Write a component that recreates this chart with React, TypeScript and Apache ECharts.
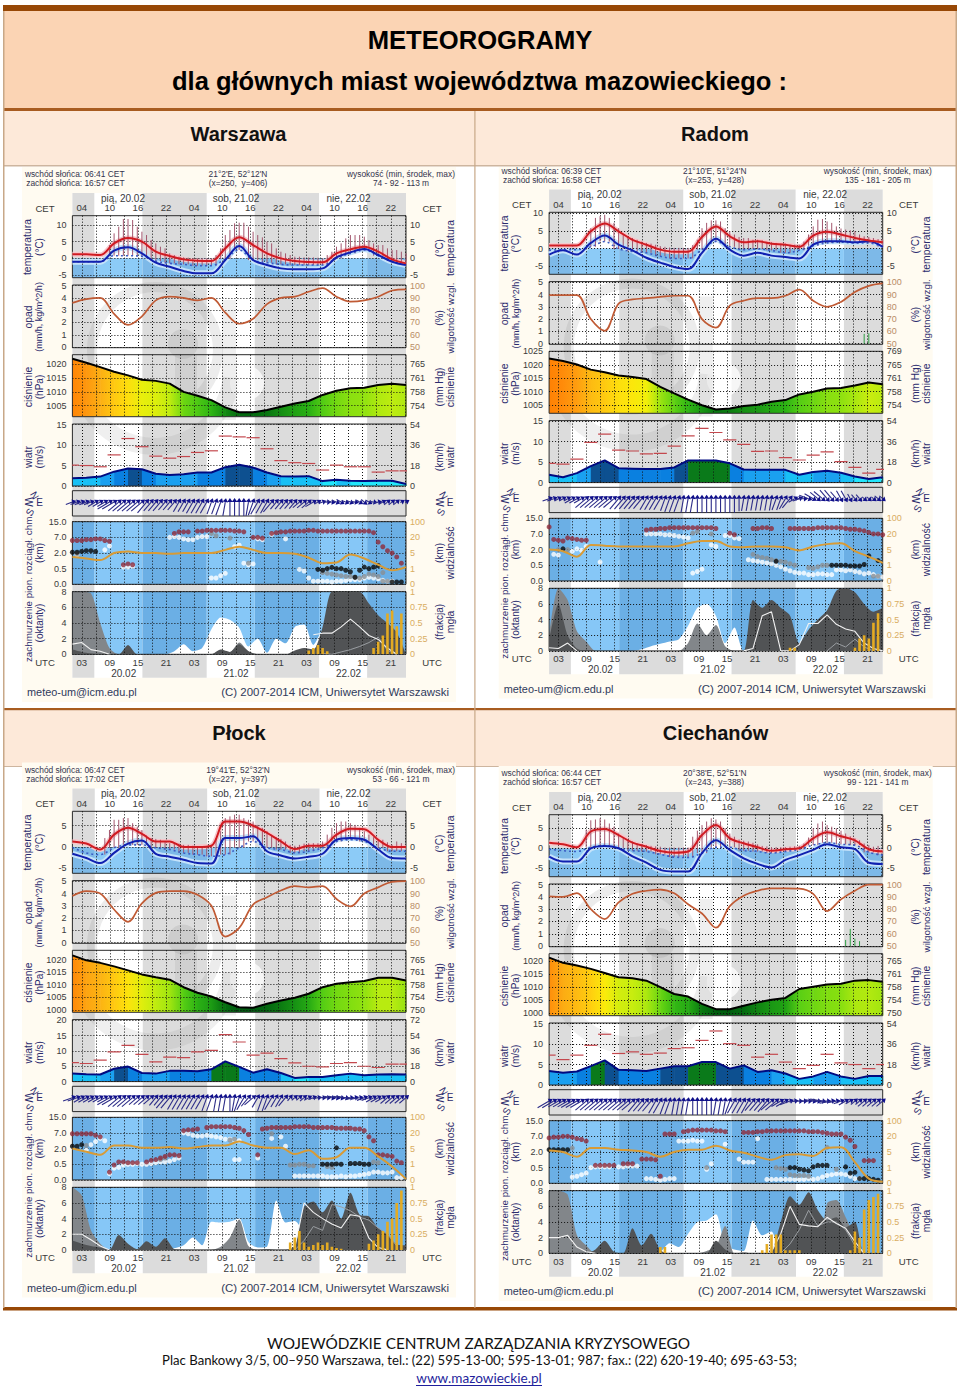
import React, { useEffect, useRef } from "react";
import * as echarts from "echarts";

// ---------- shared labels ----------
const TITLE_1 = "METEOROGRAMY";
const TITLE_2 = "dla głównych miast województwa mazowieckiego :";
const FOOT_1 = "WOJEWÓDZKIE CENTRUM ZARZĄDZANIA KRYZYSOWEGO";
const FOOT_2 = "Plac Bankowy 3/5, 00–950 Warszawa, tel.: (22) 595-13-00; 595-13-01; 987; fax.: (22) 620-19-40; 695-63-53;";
const FOOT_3 = "www.mazowieckie.pl";
const BASE_LABELS = ["0.0", "0.5", "2.0", "7.0", "15.0"];
const VIS_LABELS = ["0", "1", "5", "20", "100"];
const FOG_LABELS = ["0", "0.25", "0.5", "0.75", "1"];

// ---------- Warszawa ----------
const W_T = [1.2,1.2,1,4.5,6.1,5,2,.7,-.3,-.7,-.8,3,6.3,4,1.5,0,-.8,-1.1,-1.2,1.5,2.7,3.5,2,-.3,-1.5];
const W_TD = [-1,-1,-1,2.3,3.3,1.5,-1.3,-2.5,-3.8,-4.5,-4.5,-.5,3.7,-.5,-2,-3,-3.3,-3.3,-3,.3,1.8,2.8,1,-1,-2];
const W_DOT = [-1,-1,-1,.8,.8,.6,-.8,-1.5,-1.8,-2.2,-2.2,-.2,2.5,-.5,-1.3,-1.8,-2,-2,-2,0,1.5,2.5,.8,-.8,-1.5];
const W_STICK = [[9,[4,7.5,9.5,11.8,11.8,11.5,9.5,8,7,5.5,4.5,3.5,3,1.5,1,.5,.3,.2,0,0,0,0,0,1,3,7,8.5,10.5,10.7,10.7,9.5,8,7,6.3,5,4.5,3,2,1.5,1,.5,.5,.3,.3,.3,.2,0,1,2,3.5,4.5,6,7,7,7,6.5,5.5,4.5,4,4,3,2.5,2.5,2,1.5]]];
const W_RH = [86,89,90,77,68,75,88,91,90,88,90,78,69,73,85,90,91,95,98,91,87,88,91,96,97];
const W_RAIN: any[] = [];
const W_P = [1022,1020.6,1019,1017.3,1016,1014.4,1014,1013,1010,1008.6,1007,1004.4,1002.6,1002.6,1003.4,1004.6,1005.8,1006.7,1008.9,1010.4,1011.3,1011.5,1012.5,1013,1012.5];
const W_WIND = [1.9,2,2.3,3.5,4.3,4.1,3,2.7,2.9,3.3,3.3,4.6,5.2,4.5,3.3,2.4,2.3,2.4,1.2,1.5,1.3,1.2,1.3,1.3,.5];
const W_GUST = [5.1,5,4.7,7.6,11.6,9.6,7.3,6.8,7.2,8.2,8.6,12.2,12,11.8,9.1,6.2,5.7,5.5,3.9,5.1,4.7,4.7,3.4,3.7,3.7];
const W_DIR = [25,25,25,25,25,24,24,24,24,24,23,23,23,23,23,23,22,22,22,22,22,22,22,21,21,21,21,21,21,21,20,20,20,19,18,18,18,18,19,20,21,21,21,22,22,22,22,22,22,23,23,23,24,24,25,27,28,29,30,29,29,28,30,31,30,28,26,24,23,23,23,24,24];
const W_VIS = [1.75,1.65,1.55,2,2.1,2,2,1.95,2,2,2,2.2,2.4,2.2,2,2,1.95,1.7,1.35,1.4,1.9,1.65,1.25,.9,1.1];
const W_HIGH = [[1,[2.8,2.8,2.8,2.85,2.85,2.9,2.9,2.8,2.75]],[12,[1.25,1.3,1.25]],[23,[3.25,3.35,3.35,3.35]],[28,[3.4,3.4,3.45,3.45,3.45,3.45,3.45,3.45,3.4,3.4,3.35]],[40,[3,3,2.95]],[44,[3.25,3.3,3.35,3.35,3.4,3.4,3.4,3.4,3.45,3.45,3.4,3.4,3.4,3.4,3.4,3.4,3.4,3.4,3.4,3.4,3.4,3.4,3.3]],[67,[2.7,2.4,2.15,2,1.75,1.35]]];
const W_BLACK = [[1,[2.05,2.05,2.1,2.15,2.15,2.1]],[54,[.95,.9,1,1.08,1,1,.9,.8,.45,.9,1.1,1,1.1,1.2]],[70,[.15,.15,.15]]];
const W_GRAY = [[2,[1.95]],[31,[3.25,3.1]],[35,[2.95]],[39,[1.35]],[55,[.75,.7,.65,.6,.55,.5,.5,.45,.4,.5,.65,.6,.5,.75]],[68,[.2,.2]]];
const W_WHITE = [[2,[1.9]],[8,[2.2,2.45]],[12,[1.1,1.1,1.15]],[22,[3,3.05,3,2.9,2.85,2.85,3,3.05,3.05]],[31,[.4,.4,.55,.7]],[36,[2.4,2.5]],[38,[1.35,1.25,1.3]],[41,[2.9,2.85]],[44,[3.2]],[47,[2.9]],[50,[.95,.85]],[52,[.4,.2,.2,.2,.2,.15,.2,.2,.25,.3,.3,.3,.4,.45,.4,.35,.25,.2,.2]]];
const W_COV_WHITE = [0,0,0,0,0,0,0,0,0,0,0,.4,1.3,.4,.8,3.2,4.7,4.4,3.4,1,2,.2,2,1.4,3.5,3.8,1.2,3];
const W_COV_GRAY = [8,8,7.8,4,.8,0,0,0,0,0,0,0,0,0,0,0,.5,.3,1.5,.4,0,0,0,0,0,0,0,0,0,0,0,0,0,4,3,.5];
const W_COV_DARK = [.6,.3,.1,0,0,0,1.2,0,0,0,0,0,0,0,0,0,.6,.3,1.3,.4,0,0,0,0,.5,.8,.6,3.5,8,8,8,8,6.5,5,4,2.8,0];
const W_LINE_WHITE = [[0,[1.3,1.5,.6,.4,0]],[26,[2.5,2.7,2.7,3.5,4.5,3.5,2.4,1.9,.8,0]]];
const W_LINE_GRAY = [[27,[.1,0,.3,.6,1,1.5,2.2,.5,0]]];
const W_FOG = [[52,[.06,.1,.15,.1,.05]],[66,[.1,.2,.3,.65,.7,.45,.65]]];

// ---------- Radom ----------
const R_T = [.9,.9,.9,4.9,7.1,4.9,2.5,1.1,-.3,-.9,-.9,3.3,6.3,3.5,1.8,2.1,1.4,1.1,.5,3.7,4.8,4,3,2.3,1.8];
const R_TD = [-1.7,-.5,-1.7,1.6,3.7,1.1,-.5,-2.6,-4,-5.2,-5.8,-1.2,2.8,-.3,-2,-1.2,-2,-2.4,-2.8,1.1,2.1,2.1,1.8,2.1,.5];
const R_DOT = [-.5,-.3,-.3,.5,2,-.1,-.8,-1.2,-2.2,-2.8,-2.8,-.3,2,.5,-.3,-.1,-.5,-1.2,-.5,.8,1.6,1.8,1.6,1.6,.5];
const R_STICK = [[10,[5.8,8.7,9.2,9.6,8.7,7.3,5.8,4,3.5,3,2.5,2,1.6,1.4,1.1,.7,.5,.3,.2,.2,.2,.2,1,2.5,5.8,7.3,8,8,7.7,5.8,4.9,4,3.3,3,3,2.5,2.5,2.3,1.8,1.8,1.6,1.4,1.4,1.1,1.1,1.1,2,4,6.3,8.2,8.4,7.7,7.3,6.3,5.7,5.4,5.2,4.9,4,3.5,3.3,3,2.7,2.5]]];
const R_RH = [89.5,89.5,89.5,70,60.5,82.6,86,87,88,89,89,70,63,81,85,87,87,89,94,85,80,84,92,97,99];
const R_RAIN = [[69,[.8,.85]]];
const R_P = [1022.3,1021.4,1020.1,1018.2,1017.2,1016,1015.5,1014.7,1011.8,1009.4,1007.1,1005,1003.4,1003.8,1004.7,1005.2,1006.3,1006.9,1009,1010,1011.2,1011.4,1012.3,1013.4,1012.8];
const R_WIND = [1.9,1.3,2.3,4,5.4,3.5,3.4,3.3,3.3,3.7,5.4,5.4,5.4,4.7,3.2,3.1,3.1,3.1,1.9,2.6,2.9,2.4,1.5,.9,1.3];
const R_GUST = [4.7,4.5,5.7,9.8,11.8,7.9,7.7,7,7.1,8.9,11.4,13.2,12.2,10.4,9.3,7.6,7.7,6.1,5.5,6.7,7.5,5.1,3.7,2.3,3.2];
const R_DIR = [25,25,24,24,24,24,24,24,23,23,23,23,23,23,23,22,22,22,22,22,22,21,21,21,21,20,20,20,20,19,19,19,18,18,18,18,18,18,18,18,18,18,19,19,19,19,19,19,19,20,20,21,22,24,25,27,29,30,31,31,32,32,32,33,33,33,32,32,31,31,31,31,31];
const R_VIS = [2,1.9,1.55,2.3,2.25,2.2,2.2,2.2,2.2,2.2,2.4,2.55,2.55,2.2,2.15,2.2,2.2,2.15,1.95,2.2,2.35,2.4,1.9,1.55,1.15];
const R_HIGH = [[1,[3.45]],[2,[2.65,2.6,2.55,2.75,2.7,2.65,2.6,2.6]],[22,[3.25,3.3,3.3,3.35,3.35,3.4,3.4,3.4,3.4,3.4,3.4,3.4,3.4,3.4,3.4,3.35]],[40,[3.05,2.95]],[45,[3.35,3.35,3.4,3.4,3.35]],[53,[3.35,3.35,3.35,3.35,3.35,3.35,3.4,3.4,3.4,3.4,3.4,3.4,3.35,3.3,3.3,3.25,3.2,3.1,3,3,2.95,2.9]]];
const R_BLACK = [[4,[2.05]],[50,[1.25]],[62,[1,1,1,1,.95,.95,.95,1.05]],[70,[1.6]],[72,[1.3]]];
const R_GRAY = [[3,[2]],[5,[2]],[32,[3.05,3.15]],[36,[3]],[45,[1.7,1.55,1.5,1.45,1.35,1.3,1.25,1.2,1.1,1]],[57,[.85,.8,.9,1,1]],[71,[.3,.3]]];
const R_WHITE = [[2,[1.7,1.65]],[6,[1.9,2.05,1.95,2.2]],[12,[1.2]],[22,[3,3,3,3,2.95,2.95,2.9,2.85,2.8,2.75]],[32,[.5,.6,.75]],[36,[2.3,2.2]],[39,[2.9,2.9,2.75,2.7]],[44,[1.35,1.3,1.25,1.2,1.15,1.1,1,.9,.75,.65,.55,.5,.5,.4,.4,.45,.45,.4,.4,.7,.7,.65,.7,.6,.55,.45,.5,.4,.3,.25]]];
const R_COV_WHITE = [0,0,0,0,0,0,0,0,0,0,.2,.6,.9,1.2,1.5,3.2,5.5,6,4.5,1,3];
const R_COV_GRAY = [2,8,6.5,2.5,1.2,0,0,0,0,0,0,0,0,0,0,1,3.5,2,3.3,.6];
const R_COV_DARK = [1.4,6,2,.3,0,0,0,0,0,0,0,0,0,0,0,0,0,0,0,0,0,0,6.5,5.5,6.5,5.5,4.5,1,2.7,4,5.2,7.7,8,7.5,6,5,5.5];
const R_LINE_WHITE = [[0,[.4,.3,1,0]],[21,[0,.3,4.5,5,0,0,.8,3.5,3.5,4.6,3.4,2.8,2.5,1,.3,0]]];
const R_LINE_GRAY = [[30,[0,1,.5,1.5,.5,0]]];
const R_FOG = [[53,[.05,.05]],[67,[.05,.2,.25,.2,.45,.6]]];

// ---------- Płock ----------
const P_T = [1.3,.8,-.6,2.9,4.5,3.1,1.3,1.3,0,0,.3,6,6,5,3.3,1.3,-.5,.3,.3,2.9,4.3,4.2,1.7,0,0];
const P_TD = [-1.6,-2.6,-3.8,-1.4,.8,1.5,-1.6,-2.3,-3,-3.8,-3.9,2.1,2.1,2.5,-1,-2,-2.7,-2.3,-1.6,1.7,2.1,1.7,-.6,-2.6,-2.7];
const P_DOT = [-.1,-1.4,-1.8,-.2,.5,.5,-.2,-.6,-1.4,-1.8,-2.2,-1.8,-.2,1.3,-.2,-.6,-1.4,-1,-.2,1.3,1.7,1.3,-.2,-1,-1];
const P_STICK = [[8,[2.1,4,6.4,6.4,6.8,6.8,5.6,4.8,4,2.7,2.1,1.9,1.7,1.3,.9,.9,.8,.5,.5,.3,.2,.2,.2,.5,2.1,3.7,6.8,7.2,7.6,7.6,6.8,6.4,6,5.2,4.5,3.7,2.9,2.3,1.9,1.3,.5,.3,.5,.8,.9,.9,.9,1.3,2.9,4.5,5.6,6,6,5.6,5.2,4.5,3.7,2.9,2.3,1.9,1.7,1.1,.5,1.3,.9]]];
const P_RH = [88,92,90,77,67,82,90.5,92,92,89,80,55,62,81,87,92.5,96,95,96,85.5,79.5,90,95,99.5,100];
const P_RAIN: any[] = [];
const P_P = [1021.7,1019.7,1018.7,1017.3,1015.7,1014.1,1013,1012,1009,1006.8,1005.3,1003,1001,1000.8,1002.4,1003.7,1004.8,1006.4,1009,1010.4,1011,1011.5,1012.8,1012.8,1011.7];
const P_WIND = [2.6,2.4,2.3,4.2,4.9,2.8,2.6,3.5,3.5,3.4,4,6.6,4.8,2.9,4,2.8,1.2,1.5,1.5,2.1,2.6,2.1,2.3,2.4,2.3];
const P_GUST = [6.2,5.9,7,9.7,11.8,8.9,6.4,8,7.8,9.7,10.2,15.3,12.9,8.6,9.3,7.5,6.1,5,4.8,5.9,6.2,5,4.6,5.7,5.7];
const P_DIR = [25,25,24,24,24,24,24,24,24,24,23,23,23,23,23,23,23,23,22,22,22,22,21,21,21,21,21,21,21,20,20,19,19,19,18,19,20,21,22,23,21,20,20,21,21,21,22,22,23,23,23,24,25,26,27,27,28,28,28,28,27,26,26,25,25,24,24,24,23,23,23,23,23];
const P_VIS = [2,1.8,1.6,2.2,2.2,2.05,2.05,2.1,2,2.1,2.2,2.2,2.45,2.2,2.05,2.05,1.65,1.9,1.35,1.45,2.05,2.05,1.5,.85,.05];
const P_HIGH = [[1,[2.95,2.95,2.95,2.95,2.95,2.85,2.75]],[9,[.5,.95,1.15,1.15,1.1,1.1,1.1]],[17,[1.15,1.25,1.3,1.4,1.5,1.6,1.6,1.55]],[25,[3.15,3.2,3.2,3.25]],[30,[3.35,3.4,3.4,3.4,3.4,3.4,3.35,3.3,3.15,2.9]],[41,[1.6]],[42,[3.25,3.3,3.35,3.35,3.35,3.35,3.35,3.4,3.4,3.4,3.4,3.35,3.35,3.35,3.35,3.35,3.3,3.3,3.3,3.3,3.25,3.25,3.15,2.75,2.5]],[67,[1.6,1.6,1.55,1.5,1.2,1.1]]];
const P_BLACK = [[1,[2.15,2.15,2.25]],[55,[1,1,1,1.02,1]],[58,[2.05]],[61,[1.05,1.05,1.05,1,1]]];
const P_GRAY = [[4,[2.2]],[20,[1.3,1.4]],[35,[2.55,2.6]],[44,[2.95]],[48,[.95,.95,1,1,.9,.9]],[56,[.85,.8]],[66,[1.15,1.1]]];
const P_WHITE = [[4,[1.9,2.25,2.45,2.65,2.5]],[9,[.4,.75,.8,.95,1,1,1.05]],[16,[1,1,1.05,1.1,1.15,1.15,1.2,1.3,1.4]],[25,[3,2.95,2.85,2.8,2.8,2.85,2.8,2.75,2.7,2.6,2.6,2.55,2.5]],[36,[1.3,1.3]],[41,[1.4]],[44,[2.65]],[46,[2.75]],[47,[2.15]],[49,[.25,.25,.25,.25,.25,.25,.25,.2,.2,.2,.25,.2,.25,.25,.3,.35,.4,.5,.5,.45,.45,.5,.15,.15]]];
const P_COV_WHITE = [0,0,0,0,0,0,0,0,0,0,0,.2,.6,1.6,.6,3.6,3.5,3.6,4,1,.3,.4,6.3,3.5,3.7,2];
const P_COV_GRAY = [8,7,2.5,.8,0,0,0,0,0,0,0,0,0,0,0,0,.4,1.6,3.9,.5];
const P_COV_DARK = [1.2,.8,.5,.3,0,1.9,.8,.1,1.1,.4,1.5,.1,0,0,0,0,0,0,0,0,0,.1,0,0,.5,5.5,6.2,4.8,6.3,4,7.3,4.5,4.3,2.8,2,.7,.6];
const P_LINE_WHITE = [[0,[2,2,1.3,.5,0]],[24,[.3,6,4.8,4,3.3,2.8,4.5,4.3,1.5,.3,0]]];
const P_LINE_GRAY = [[24,[0,1.2,3,2.5,5.8,5.5,5,4.2,3.8,2.8,2,.5]]];
const P_FOG = [[48,[.12,.2,.3,.12,.05,.08,.12,.08,.12,.05,.03,.02]],[65,[.1,.15,.25,.3,.45,.5,.75,.95]]];

// ---------- Ciechanów ----------
const C_T = [1.4,1,.25,4.2,4.8,3.3,1.4,.4,-.7,-1.1,-.8,3.3,5.8,2.5,1.25,.25,-.6,-.25,0,2.5,4,3,2,-.25,-.8];
const C_TD = [-2.1,-3.3,-3.3,0,.6,0,-2,-3.6,-5.4,-5.8,-5.8,-1.2,2,-.4,-2.5,-3.9,-4.8,-2.9,-1.7,-.4,1,.25,-.2,-3.6,-3.9];
const C_DOT = [-.2,-.6,-.8,.25,.7,0,-.6,-.8,-1.5,-2.2,-2.3,-1.2,.25,.25,-.6,-.8,-1.2,-.8,-.25,.8,1.4,1,.8,-1,-1.7];
const C_STICK = [[9,[4.6,7,7.2,7.5,7.2,6.2,5.4,3.7,2.5,2,1.7,1.2,1,.8,.6,.5,.4,.2,.2,.2,.2,.2,.2,2.9,4.4,5.8,6.7,7.5,7.2,6.7,5,3.7,2.9,2.2,1.9,1.7,1.4,1,.6,.5,.3,.3,.3,.3,.4,.5,.6,1.2,2.7,5,6.2,6.7,5.8,5.4,5,4.4,3.7,3,2.5,2,1.2,.8,.4,.6]]];
const C_RH = [90.5,90,93,80,72,85.5,92.5,95,96,93,84,76.5,65,82.5,91,95,97,97,96.7,92.5,78.5,88,95,100,100];
const C_RAIN = [[65,[.5,1.4,.6,.4]]];
const C_P = [1021.2,1019.2,1018.2,1016.9,1015.3,1013.7,1013.3,1012.4,1009.9,1007.3,1006.3,1003.5,1001.5,1001.5,1002.8,1004.1,1005.1,1005.8,1009.2,1010.1,1010.9,1011.2,1012.4,1012.6,1012];
const C_WIND = [3.4,3,3.3,4.6,6,3.7,3.6,3.4,4,4.6,4.6,5.6,5.6,4,4.8,3.2,3.6,2.8,1.5,2.1,3.2,2.1,1.5,2.2,2.2];
const C_GUST = [7.3,6.2,7.3,9.7,12.4,7.7,8.1,7.5,7.8,8.9,9.1,10.9,13.2,10.1,9.7,6.8,7.5,5.6,4,4.8,7.5,5.4,5,4,5];
const C_DIR = [24,24,24,24,24,24,24,24,23,23,23,23,23,23,23,23,23,23,23,22,22,22,22,21,21,20,20,19,19,19,19,18,18,18,18,18,19,19,19,20,21,21,21,21,22,22,22,22,23,23,24,24,25,26,27,27,27,28,28,28,27,26,26,25,24,24,23,23,23,23,23,23,23];
const C_VIS = [2.1,2,1.7,2.25,2.25,2.15,2.1,2,1.7,2,2.15,2.15,2.4,2.1,1.95,1.7,1.5,1.8,1.85,1.75,2.25,2.3,1.35,.3,.1];
const C_HIGH = [[1,[2.9,2.95,2.95,3,3,2.95,2.85,2.8,2.7]],[11,[1.15,1.15,1.15,1.15,1.15]],[17,[1.25,1.25,1.25]],[21,[1.55,1.55,1.55,1.5]],[25,[.45]],[26,[3.15,3.15,3.15]],[30,[3.3,3.35,3.4,3.4,3.4,3.4,3.4,3.35,3.35,3.3]],[43,[3.25,3.25,3.25,3.3,3.3,3.35,3.35,3.35,3.35,3.35,3.35,3.35,3.35,3.35,3.3,3.3,3.3,3.25,3.2,3.15,3.15,3.15,2.95,2.75,2.35]],[69,[1.45,1.45,1.45]]];
const C_BLACK = [[1,[2.15,2.15,2.15,2.15,2.15]],[53,[1,1,.9,.85,.8,1.05,1.15,1.15,1.15]],[65,[1.05,.65,.7]],[68,[.3,.3,.3,.25,.2]]];
const C_GRAY = [[6,[2.25]],[35,[1]],[50,[1,.95,.9,.55,.5,.5,.5,.45]],[61,[2.3]],[63,[.9]]];
const C_WHITE = [[6,[.4,.45,.55,.65]],[10,[1,1.05,1.05,1.05,1.05]],[16,[1.05,1.05,1.1,1.1,1.1]],[22,[.3,.3,.25,.2,.25,.3,.3]],[29,[2.7,2.7,2.7,2.75,2.7,2.7]],[35,[.9,1.25]],[39,[2.5]],[42,[1.55,1.35,1.35,1.35]],[46,[2.85]],[48,[.25,.25,.25,.25,.25,.25,.25,.25,.25,.3,.25,.3,.4,.5,.55,.6,.6,.55,.45,.3,.3]]];
const C_COV_WHITE = [0,0,0,0,0,0,0,0,0,0,0,0,.2,1.3,.8,2.5,4,4.2,5,1,.5,.3,4.2,2.3,2.8];
const C_COV_GRAY = [8,8,7.5,2.3,1,0,0,0,0,0,0,0,0,0,0,0,0,.3,.8,3.5,0,0,0,0,0,0,0,0,0,0,6.4,6.8,4.6,2];
const C_COV_DARK = [0,0,0,0,0,.5,1.6,.2,0,3.2,1,2.5,.4,0,0,0,0,0,1.6,.5,0,.1,0,0,.2,4,7.3,6.2,7.8,5.5,4.2,4.6,3.3,4];
const C_LINE_WHITE = [[0,[2,2,2.3,.8,.2,0]],[24,[.2,2.5,6,3.7,3.5,3.4,4.6,3.8,3.2,1.5,0]]];
const C_LINE_GRAY = [[25,[0,1.2,3,5.5,3.5,4,4,3,1,0]]];
const C_FOG = [[25,[.1,.1]],[47,[.05,.15,.3,.3,.3,.05,.05,.05,.05]],[66,[.05,.35,.25,.7,.85,.9,.95]]];

const CITIES = [
  { name: "Warszawa", nameXY: [238.5, 134], dx: 0, dy: 0, rise: "06:41", set: "16:57", nights: [[1,5.68],[15.95,29.68],[39.95,53.68],[63.95,72.25]], coord: "21°2'E, 52°12'N", grid: "(x=250,  y=406)", alt: "74 - 92 - 113 m",
    tRange: [-5.8,12.8], tTicks: [-5,0,5,10], pRange: [1001,1023.5], pTicks: [1005,1010,1015,1020], wMax: 15.15, wTicks: [0,5,10,15],
    T: W_T, TD: W_TD, DOT: W_DOT, STICK: W_STICK, RH: W_RH, RAIN: W_RAIN, P: W_P, WIND: W_WIND, GUST: W_GUST, DIR: W_DIR, VIS: W_VIS, HIGH: W_HIGH, BLACK: W_BLACK, GRAY: W_GRAY, WHITE: W_WHITE, CW: W_COV_WHITE, CG: W_COV_GRAY, CD: W_COV_DARK, LW: W_LINE_WHITE, LG: W_LINE_GRAY, FOG: W_FOG },
  { name: "Radom", nameXY: [715, 134], dx: 476.7, dy: -3.4, rise: "06:39", set: "16:58", nights: [[1,5.65],[15.97,29.65],[39.97,53.65],[63.97,72.25]], coord: "21°10'E, 51°24'N", grid: "(x=253,  y=428)", alt: "135 - 181 - 205 m",
    tRange: [-7.3,10.3], tTicks: [-5,0,5,10], pRange: [1002,1025], pTicks: [1005,1010,1015,1020,1025], wMax: 15.1, wTicks: [0,5,10,15],
    T: R_T, TD: R_TD, DOT: R_DOT, STICK: R_STICK, RH: R_RH, RAIN: R_RAIN, P: R_P, WIND: R_WIND, GUST: R_GUST, DIR: R_DIR, VIS: R_VIS, HIGH: R_HIGH, BLACK: R_BLACK, GRAY: R_GRAY, WHITE: R_WHITE, CW: R_COV_WHITE, CG: R_COV_GRAY, CD: R_COV_DARK, LW: R_LINE_WHITE, LG: R_LINE_GRAY, FOG: R_FOG },
  { name: "Płock", nameXY: [239, 733], dx: 0, dy: 595.6, rise: "06:47", set: "17:02", nights: [[1,5.78],[16.03,29.78],[40.03,53.78],[64.03,72.25]], coord: "19°41'E, 52°32'N", grid: "(x=227,  y=397)", alt: "53 - 66 - 121 m",
    tRange: [-6.2,8.4], tTicks: [-5,0,5], pRange: [999,1023.7], pTicks: [1000,1005,1010,1015,1020], wMax: 20.2, wTicks: [0,5,10,15,20],
    T: P_T, TD: P_TD, DOT: P_DOT, STICK: P_STICK, RH: P_RH, RAIN: P_RAIN, P: P_P, WIND: P_WIND, GUST: P_GUST, DIR: P_DIR, VIS: P_VIS, HIGH: P_HIGH, BLACK: P_BLACK, GRAY: P_GRAY, WHITE: P_WHITE, CW: P_COV_WHITE, CG: P_COV_GRAY, CD: P_COV_DARK, LW: P_LINE_WHITE, LG: P_LINE_GRAY, FOG: P_FOG },
  { name: "Ciechanów", nameXY: [715.5, 733], dx: 476.7, dy: 599, rise: "06:44", set: "16:57", nights: [[1,5.73],[15.95,29.73],[39.95,53.73],[63.95,72.25]], coord: "20°38'E, 52°51'N", grid: "(x=243,  y=388)", alt: "99 - 121 - 141 m",
    tRange: [-7.1,8.4], tTicks: [-5,0,5], pRange: [999,1022.7], pTicks: [1000,1005,1010,1015,1020], wMax: 15.15, wTicks: [0,5,10,15],
    T: C_T, TD: C_TD, DOT: C_DOT, STICK: C_STICK, RH: C_RH, RAIN: C_RAIN, P: C_P, WIND: C_WIND, GUST: C_GUST, DIR: C_DIR, VIS: C_VIS, HIGH: C_HIGH, BLACK: C_BLACK, GRAY: C_GRAY, WHITE: C_WHITE, CW: C_COV_WHITE, CG: C_COV_GRAY, CD: C_COV_DARK, LW: C_LINE_WHITE, LG: C_LINE_GRAY, FOG: C_FOG },
];

// ---------- layout ----------
const PLOT_L = 72.4, PLOT_W = 333.6;
const X_MIN = 1, X_MAX = 72.25;
const T3 = Array.from({ length: 25 }, (_, i) => X_MIN + (i * (X_MAX - X_MIN)) / 24);
const T2 = Array.from({ length: 37 }, (_, i) => X_MIN + (i * (X_MAX - X_MIN)) / 36);
const hourX = (k: number) => X_MIN + ((k - 1) * (X_MAX - X_MIN)) / 72;
const GRID_X = [3,6,9,12,15,18,21,24,27,30,33,36,39,42,45,48,51,54,57,60,63,66,69,72];
const LABEL_X = [3,9,15,21,27,33,39,45,51,57,63,69];
const PANELS = { temp: [215.7,277.7], rain: [285,347.7], press: [354.7,416.7], wind: [424,486], dir: [490.7,516], base: [521.7,584.3], cover: [591.7,654.3] };
const SIDE_TEXT: any[] = [
  [27.7,247,"temperatura",10.4],[39,247,"(°C)",10],[28,317,"opad",10.4],[39,317,"(mm/h, kg/m^2/h)",9],[28,387,"ciśnienie",10.4],[39,387,"(hPa)",10],[28,457,"wiatr",10.4],[39,457,"(m/s)",10],[28,588,"zachmurzenie pion. rozciągł. chm.",9.8],[39,553,"(km)",10],[39,623,"(oktanty)",10],
  [439,248,"(°C)",10],[450,248,"temperatura",10.4],[439,318,"(%)",10],[450,318,"wilgotność wzgl.",9.8],[439,387,"(mm Hg)",10],[450,387,"ciśnienie",10.4],[439,457,"(km/h)",10],[450,457,"wiatr",10.4],[439,553,"(km)",10],[450,553,"widzialność",10.4],[439,622,"(frakcja)",10],[450,622,"mgła",10.4],
];
const DATE_TOP: any[] = [[123,198,"pią, 20.02"],[236,198,"sob, 21.02"],[348.5,198,"nie, 22.02"]];
const DATE_BOT: any[] = [[123.7,673,"20.02"],[236,673,"21.02"],[348.5,673,"22.02"]];
const FONT = '"Liberation Sans", Arial, sans-serif';
const NAVY = "#2b2b6e", TXT = "#3a3a3a", GOLD = "#d9ad62", TAN = "#b98d66";

const pressColor = (v: number) => {
  const stops: any[] = [[1001,[0,90,16]],[1003,[5,110,16]],[1005,[25,150,20]],[1007,[45,180,20]],[1009,[85,205,20]],[1011,[130,222,16]],[1013,[190,236,16]],[1015,[250,240,10]],[1017,[255,205,15]],[1019,[252,175,20]],[1021,[255,145,12]],[1023,[255,120,0]]];
  let a = stops[0], b = stops[stops.length - 1];
  for (let i = 0; i < stops.length - 1; i++) if (v >= stops[i][0] && v <= stops[i + 1][0]) { a = stops[i]; b = stops[i + 1]; }
  const t = b[0] === a[0] ? 0 : Math.min(1, Math.max(0, (v - a[0]) / (b[0] - a[0])));
  return `rgb(${a[1].map((c: number, k: number) => Math.round(c + (b[1][k] - c) * t)).join(",")})`;
};
const windColor = (v: number) => v < 1.4 ? "#22e6fb" : v < 2.6 ? "#18c0f5" : v < 3.3 ? "#1aa0f0" : v < 4.1 ? "#0a80e0" : v < 5 ? "#0d5090" : v < 5.8 ? "#0a7a1a" : "#19c01f";
const runs = (r: any[], xf: (i: number) => number) => { const out: any[] = []; r.forEach(([s, vals]: any) => vals.forEach((v: number, i: number) => out.push([xf(s + i), v]))); return out; };

function buildOption() {
  const grid: any[] = [], xAxis: any[] = [], yAxis: any[] = [], series: any[] = [], g: any[] = [];
  const txt = (x: number, y: number, text: string, o: any = {}) => g.push({ type: "text", x, y, rotation: o.rot || 0, z: o.z ?? 20, silent: true, style: { text, font: `${o.w || "normal"} ${o.s || 10}px ${o.f || FONT}`, fill: o.c || TXT, align: o.a || "center", verticalAlign: "middle" } });
  const rect = (x: number, y: number, w: number, h: number, fill: string, z = -5) => g.push({ type: "rect", z, silent: true, shape: { x, y, width: w, height: h }, style: { fill } });

  // page frame
  rect(0, 0, 960, 1387, "#ffffff", -10);
  rect(3, 5, 954, 6, "#974806");
  rect(3, 11, 954, 97, "#fbd4b4");
  rect(3, 108, 954, 3, "#a85c20");
  rect(3, 111, 954, 54, "#fde9d9");
  rect(3, 165, 954, 1.5, "#cdb59f");
  rect(3, 708, 954, 2.5, "#a85c20");
  rect(3, 710.5, 954, 55.5, "#fde9d9");
  rect(3, 766, 954, 1, "#cdb59f");
  rect(3, 1307, 954, 3.5, "#974806");
  rect(3, 11, 1.5, 1297, "#c8a888", -4);
  rect(955.5, 11, 1.5, 1297, "#c8a888", -4);
  rect(474.3, 111, 1.2, 1197, "#c8a888", -4);
  txt(480, 40, TITLE_1, { s: 25.6, w: "bold", c: "#000" });
  txt(479.5, 81, TITLE_2, { s: 25.5, w: "bold", c: "#000" });
  txt(478.5, 1343, FOOT_1, { s: 15.35, f: "Lato", c: "#111" });
  txt(479.5, 1360, FOOT_2, { s: 13.16, f: "Lato", c: "#111" });
  txt(479, 1378, FOOT_3, { s: 13.6, f: "Lato", c: "#1f1f9c" });
  rect(416, 1385, 126, 1, "#1f1f9c", 20);

  CITIES.forEach((c: any) => {
    const { dx, dy } = c;
    const L = PLOT_L + dx;
    txt(c.nameXY[0], c.nameXY[1], c.name, { s: 20, w: "bold", c: "#111" });
    // cream image background
    rect(22 + dx, 167 + Math.max(dy === -3.4 ? 0 : dy, 0), 434, 535 - (dy === -3.4 ? 3.4 : 0), "#fffbf1", -3);
    // header
    const h = (x: number, y: number, t: string, a = "center") => txt(x + dx, y + dy, t, { s: 8.4, a, c: "#33334d" });
    h(124.5, 174, `wschód słońca: ${c.rise} CET`, "right");
    h(124.5, 183.3, `zachód słońca: ${c.set} CET`, "right");
    h(238, 174, c.coord);
    h(238, 183.3, c.grid);
    h(401, 174, "wysokość (min, środek, max)");
    h(401, 183.3, c.alt);
    [[45,208,"CET"],[432,208,"CET"],[45,662,"UTC"],[432,662,"UTC"]].forEach((t: any) => txt(t[0] + dx, t[1] + dy, t[2], { s: 9.6 }));
    DATE_TOP.concat(DATE_BOT).forEach((t: any) => txt(t[0] + dx, t[1] + dy, t[2], { s: 10 }));
    SIDE_TEXT.forEach((t: any) => txt(t[0] + dx, t[1] + dy, t[2], { s: t[3], rot: Math.PI / 2, c: NAVY }));
    txt(27 + dx, 692.3 + dy, "meteo-um@icm.edu.pl", { s: 10.9, a: "left", c: "#2f3a5c" });
    txt(449 + dx, 692.3 + dy, "(C) 2007-2014 ICM, Uniwersytet Warszawski", { s: 11.45, a: "right", c: "#2f3a5c" });
    [[28,502,"W",-Math.PI/2],[34.5,495.5,"N",-Math.PI/3],[30,512,"S",Math.PI/3],[39.5,502,"E",0],[439,502,"W",-Math.PI/2],[443.5,495.5,"N",-Math.PI/3],[441,512,"S",Math.PI/3],[450,502,"E",0]].forEach((t: any) => txt(t[0] + dx, t[1] + dy, t[2], { s: 10, rot: t[3], c: NAVY }));

    // faint logo behind the panels
    const wm = (o: any) => g.push({ silent: true, z: 1, ...o });
    wm({ type: "ring", shape: { cx: 155 + dx, cy: 350 + dy, r: 68, r0: 58 }, style: { fill: "rgba(120,120,120,0.14)" } });
    wm({ type: "circle", shape: { cx: 183 + dx, cy: 344 + dy, r: 15 }, style: { fill: "rgba(110,110,110,0.14)" } });
    wm({ type: "sector", shape: { cx: 155 + dx, cy: 370 + dy, r: 85, r0: 68, startAngle: 0.1, endAngle: 2.9 }, style: { fill: "rgba(120,120,120,0.12)" } });
    wm({ type: "rect", shape: { x: 175 + dx, y: 355 + dy, width: 22, height: 62 }, style: { fill: "rgba(120,120,120,0.12)" } });
    wm({ type: "circle", shape: { cx: 247 + dx, cy: 383 + dy, r: 17 }, style: { fill: "rgba(255,255,255,0.75)" } });
    wm({ type: "rect", shape: { x: 222 + dx, y: 300 + dy, width: 14, height: 120 }, style: { fill: "rgba(120,120,120,0.12)" } });

    const days = [[c.nights[0][1], c.nights[1][0]], [c.nights[1][1], c.nights[2][0]], [c.nights[2][1], c.nights[3][0]]];
    const spans = (xi: number, yi: number, sp: any[], lo: number, hi: number, color: string, z: number) => series.push({
      type: "custom", xAxisIndex: xi, yAxisIndex: yi, z, silent: true, data: sp,
      renderItem: (_: any, api: any) => { const a = api.coord([api.value(0), hi]), b = api.coord([api.value(1), lo]); return { type: "rect", shape: { x: a[0], y: a[1], width: b[0] - a[0], height: b[1] - a[1] }, style: { fill: color } }; },
    });

    // backdrop: white days, grey nights, from the top strip to the bottom strip
    let xi = grid.length;
    grid.push({ left: L, top: 193 + dy, width: PLOT_W, height: 484.7, show: true, backgroundColor: "#ffffff", borderWidth: 0, z: 0 });
    xAxis.push({ type: "value", gridIndex: xi, min: X_MIN, max: X_MAX, show: false });
    let yi = yAxis.length;
    yAxis.push({ type: "value", gridIndex: xi, min: 0, max: 1, show: false });
    spans(xi, yi, c.nights, 0, 1, "#dcdcdc", 0);

    const panel = (key: string, xOpt: any, left: any, right: any) => {
      const [t, b] = (PANELS as any)[key];
      const gi = grid.length;
      grid.push({ left: L, top: t + dy, width: PLOT_W, height: b - t, show: true, backgroundColor: "transparent", borderColor: "#2a2a2a", borderWidth: 1, z: 5 });
      xAxis.push({
        type: "value", gridIndex: gi, min: X_MIN, max: X_MAX, z: 6, position: xOpt?.pos || "bottom",
        axisLine: { show: false }, axisTick: { show: false, customValues: key === "dir" ? [] : GRID_X },
        splitLine: { show: true, lineStyle: { color: "#111", type: [1, 2], width: 1 } },
        axisLabel: xOpt ? { show: true, customValues: LABEL_X, margin: xOpt.margin, fontSize: 9.6, color: TXT, fontFamily: FONT, formatter: (v: number) => String((v + (xOpt.shift || 0)) % 24).padStart(2, "0") } : { show: false },
      });
      const yi = yAxis.length;
      const axis = (o: any, pos: string, split: boolean) => ({
        type: "value", gridIndex: gi, min: o.min, max: o.max, position: pos, z: 6,
        axisLine: { show: false }, axisTick: { show: false, customValues: o.ticks },
        splitLine: { show: split, lineStyle: { color: "#111", type: [1, 2], width: 1 } },
        axisLabel: { show: !!o.ticks.length, customValues: o.ticks, margin: pos === "left" ? 6 : 4, fontSize: 9, color: o.color || TXT, fontFamily: FONT, formatter: o.fmt || ((v: number) => String(v)) },
      });
      yAxis.push(axis(left, "left", true), axis(right, "right", false));
      return { x: gi, y: yi, yr: yi + 1 };
    };
    const line = (a: any, yIdx: number, data: any[], color: string, width: number, z: number, type: any = "solid", smooth = 0.35) => series.push({ type: "line", xAxisIndex: a.x, yAxisIndex: yIdx, data, z, silent: true, showSymbol: false, symbol: "none", smooth, lineStyle: { color, width, type }, connectNulls: false });
    const pair = (xs: number[], ys: number[]) => xs.map((x, i) => [x, ys[i] ?? 0]);
    const stickS = (a: any, yIdx: number, data: any[], color: string, width: number, z: number) => series.push({
      type: "custom", xAxisIndex: a.x, yAxisIndex: yIdx, z, silent: true, clip: true, data,
      renderItem: (_: any, api: any) => { const p = api.coord([api.value(0), api.value(1)]), q = api.coord([api.value(0), api.value(2)]); return { type: "line", shape: { x1: p[0], y1: p[1], x2: q[0], y2: q[1] }, style: { stroke: color, lineWidth: width } }; },
    });

    // temperature
    const tmp = panel("temp", { pos: "top", margin: 3, shift: 1 }, { min: c.tRange[0], max: c.tRange[1], ticks: c.tTicks }, { min: c.tRange[0], max: c.tRange[1], ticks: c.tTicks });
    spans(tmp.x, tmp.y, c.nights, c.tRange[0], 0, "#7db9e8", 2);
    spans(tmp.x, tmp.y, days, c.tRange[0], 0, "#8ccbf7", 2);
    const stickData = runs(c.STICK, hourX).map(([x, top]: any) => [x, top, c.DOT[Math.min(24, Math.round((x - 1) / ((X_MAX - X_MIN) / 24)))]]);
    line(tmp, tmp.y, pair(T3, c.TD), "#c4e2fa", 6, 5);
    line(tmp, tmp.y, pair(T3, c.T), "#f6c6cb", 5, 5);
    stickS(tmp, tmp.y, stickData, "#a3566e", 1, 7);
    line(tmp, tmp.y, pair(T3, c.DOT), "#3b5cc4", 1.6, 7, [2, 3]);
    line(tmp, tmp.y, pair(T3, c.TD), "#1020b0", 2, 8);
    line(tmp, tmp.y, pair(T3, c.T), "#d01b22", 2, 9);

    // rain & humidity
    const rn = panel("rain", null, { min: -0.05, max: 5.05, ticks: [0,1,2,3,4,5] }, { min: 49.5, max: 100.5, ticks: [50,60,70,80,90,100], color: TAN });
    stickS(rn, rn.y, runs(c.RAIN, hourX).map(([x, v]: any) => [x, 0, v]), "#2f9e44", 1, 7);
    line(rn, rn.yr, pair(T3, c.RH), "#c05a34", 1.7, 8);

    // pressure
    const pr = panel("press", null, { min: c.pRange[0], max: c.pRange[1], ticks: c.pTicks }, { min: c.pRange[0], max: c.pRange[1], ticks: c.pTicks, fmt: (v: number) => String(Math.round(v * 0.75006)) });
    series.push({
      type: "custom", xAxisIndex: pr.x, yAxisIndex: pr.y, z: 3, silent: true, clip: true,
      data: T3.slice(0, -1).map((x, i) => [x, c.P[i], T3[i + 1], c.P[i + 1]]),
      renderItem: (_: any, api: any) => {
        const v = [api.value(0), api.value(1), api.value(2), api.value(3)];
        const a = api.coord([v[0], v[1]]), b = api.coord([v[2], v[3]]), z = api.coord([v[0], c.pRange[0]])[1];
        return { type: "polygon", shape: { points: [a, [b[0] + 0.6, b[1]], [b[0] + 0.6, z], [a[0], z]] }, style: { fill: new echarts.graphic.LinearGradient(0, 0, 1, 0, [{ offset: 0, color: pressColor(v[1]) }, { offset: 1, color: pressColor(v[3]) }]) } };
      },
    });
    line(pr, pr.y, pair(T3, c.P), "#000", 2, 8, "solid", 0);

    // wind
    const kmh = (v: number) => String(Math.round(v * 3.6));
    const wn = panel("wind", null, { min: 0, max: c.wMax, ticks: c.wTicks }, { min: 0, max: c.wMax, ticks: c.wTicks, fmt: kmh });
    series.push({
      type: "custom", xAxisIndex: wn.x, yAxisIndex: wn.y, z: 3, silent: true, clip: true,
      data: T3.slice(0, -1).map((x, i) => [x, c.WIND[i], T3[i + 1], c.WIND[i + 1]]),
      renderItem: (_: any, api: any) => {
        const v = [api.value(0), api.value(1), api.value(2), api.value(3)];
        const a = api.coord([v[0], v[1]]), b = api.coord([v[2], v[3]]), z = api.coord([v[0], 0])[1];
        return { type: "polygon", shape: { points: [a, [b[0] + 0.6, b[1]], [b[0] + 0.6, z], [a[0], z]] }, style: { fill: windColor((v[1] + v[3]) / 2) } };
      },
    });
    line(wn, wn.y, pair(T3, c.WIND), "#000a80", 2, 8, "solid", 0);
    series.push({
      type: "custom", xAxisIndex: wn.x, yAxisIndex: wn.y, z: 7, silent: true, clip: true, data: pair(T3, c.GUST),
      renderItem: (_: any, api: any) => { const x = api.value(0), y = api.value(1), p = api.coord([x - 1.4, y]), q = api.coord([x + 1.4, y]); return { type: "line", shape: { x1: p[0], y1: p[1], x2: q[0], y2: q[1] }, style: { stroke: "#c4484e", lineWidth: 1.2 } }; },
    });

    // wind direction
    const dr = panel("dir", null, { min: 0, max: 1, ticks: [] }, { min: 0, max: 1, ticks: [] });
    yAxis[dr.y].splitLine.show = false;
    series.push({
      type: "custom", xAxisIndex: dr.x, yAxisIndex: dr.y, z: 8, silent: true,
      data: c.DIR.map((d: number, i: number) => [hourX(i + 1), d, c.WIND[Math.min(24, Math.round(i / 3))]]),
      renderItem: (_: any, api: any) => {
        const x = api.value(0), deg = api.value(1) * 10 * Math.PI / 180, w = api.value(2);
        const o = api.coord([x, 0.55]), ux = Math.sin(deg), uy = -Math.cos(deg), L2 = Math.min(14, 4.2 * w - 1);
        const tip = [o[0] - ux * 4, o[1] - uy * 4], b1 = [o[0] - uy * 2.8, o[1] + ux * 2.8], b2 = [o[0] + uy * 2.8, o[1] - ux * 2.8];
        return { type: "group", children: [
          { type: "line", shape: { x1: o[0], y1: o[1], x2: o[0] + ux * L2, y2: o[1] + uy * L2 }, style: { stroke: "#2c2c88", lineWidth: 1.1 } },
          { type: "polygon", shape: { points: [tip, b1, b2] }, style: { fill: "#10108a" } },
        ] };
      },
    });

    // cloud base & visibility
    const bs = panel("base", null, { min: 0, max: 4, ticks: [0,1,2,3,4], fmt: (v: number) => BASE_LABELS[v] }, { min: 0, max: 4, ticks: [0,1,2,3,4], color: GOLD, fmt: (v: number) => VIS_LABELS[v] });
    spans(bs.x, bs.y, c.nights, 0, 4, "#6bafe5", 2);
    spans(bs.x, bs.y, days, 0, 4, "#86c7f7", 2);
    const dots = (data: any[], color: string, z: number) => series.push({ type: "scatter", xAxisIndex: bs.x, yAxisIndex: bs.y, data, symbolSize: 5, z, silent: true, itemStyle: { color } });
    dots(runs(c.WHITE, hourX), "#ffffff", 7);
    dots(runs(c.GRAY, hourX), "#8a8f94", 7);
    dots(runs(c.BLACK, hourX), "#0a0a0a", 8);
    dots(runs(c.HIGH, hourX), "#8e2a3a", 8);
    line(bs, bs.y, pair(T3, c.VIS), "#d89b36", 2, 9);

    // cloud cover & fog
    const cv = panel("cover", { pos: "bottom", margin: 3, shift: 0 }, { min: 0, max: 8, ticks: [0,2,4,6,8] }, { min: 0, max: 1, ticks: [0,.25,.5,.75,1], color: GOLD, fmt: (v: number) => FOG_LABELS[Math.round(v * 4)] });
    spans(cv.x, cv.y, c.nights, 0, 8, "#6bafe5", 2);
    spans(cv.x, cv.y, days, 0, 8, "#86c7f7", 2);
    const area = (ys: number[], color: string, z: number) => series.push({ type: "line", xAxisIndex: cv.x, yAxisIndex: cv.y, data: pair(T2, ys), z, silent: true, showSymbol: false, symbol: "none", smooth: 0.25, lineStyle: { width: 0 }, areaStyle: { color, opacity: 1 } });
    area(c.CW, "#ffffff", 3);
    area(c.CG, "#82868a", 4);
    area(c.CD, "#515355", 5);
    const gapped = (r: any[]) => { const out: any[] = []; r.forEach(([s, vals]: any) => { vals.forEach((v: number, i: number) => out.push([T2[s + i], v])); out.push([T2[s + vals.length - 1] + 0.01, null]); }); return out; };
    line(cv, cv.y, gapped(c.LG), "#9a9ea2", 1, 7, "solid", 0);
    line(cv, cv.y, gapped(c.LW), "#f2f2f2", 1.1, 7, "solid", 0);
    stickS(cv, cv.yr, runs(c.FOG, hourX).map(([x, v]: any) => [x, 0, v]), "#e4ab23", 2.6, 8);
  });

  return { animation: false, backgroundColor: "#fff", grid, xAxis, yAxis, series, graphic: { elements: g } };
}

export default function App() {
  const ref = useRef<HTMLDivElement>(null);
  useEffect(() => {
    const chart = echarts.init(ref.current!, undefined, { renderer: "svg" });
    chart.setOption(buildOption());
    return () => chart.dispose();
  }, []);
  return <div ref={ref} style={{ position: "absolute", left: 0, top: 0, width: 960, height: 1387 }} />;
}
